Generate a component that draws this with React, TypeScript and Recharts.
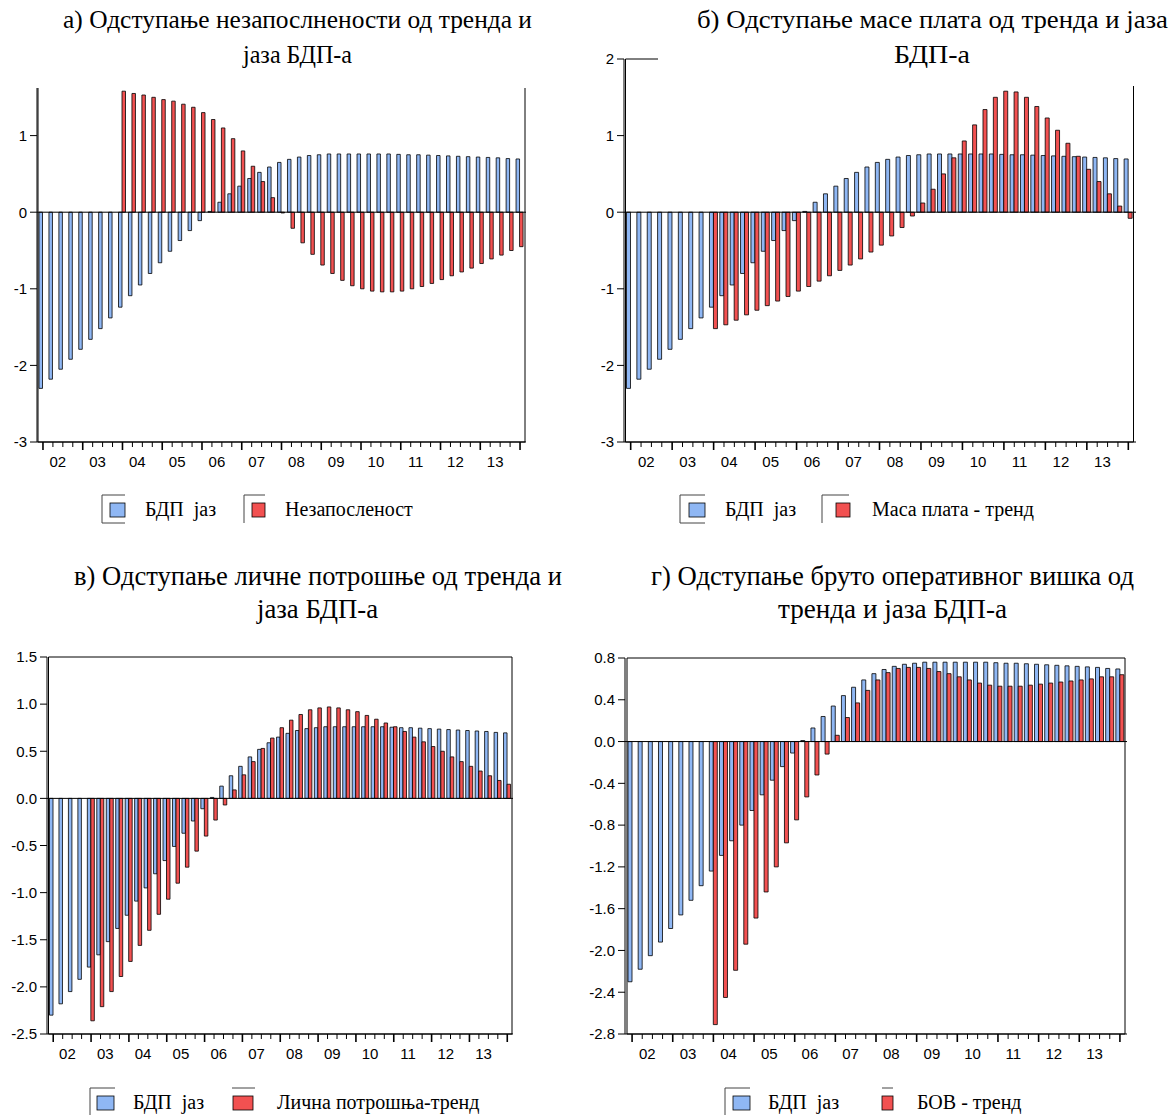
import React from "react";
import { BarChart, Bar, XAxis, YAxis, ReferenceLine, ReferenceArea } from "recharts";

const quarters = [
  "2002Q1", "2002Q2", "2002Q3", "2002Q4", "2003Q1", "2003Q2", "2003Q3", "2003Q4",
  "2004Q1", "2004Q2", "2004Q3", "2004Q4", "2005Q1", "2005Q2", "2005Q3", "2005Q4",
  "2006Q1", "2006Q2", "2006Q3", "2006Q4", "2007Q1", "2007Q2", "2007Q3", "2007Q4",
  "2008Q1", "2008Q2", "2008Q3", "2008Q4", "2009Q1", "2009Q2", "2009Q3", "2009Q4",
  "2010Q1", "2010Q2", "2010Q3", "2010Q4", "2011Q1", "2011Q2", "2011Q3", "2011Q4",
  "2012Q1", "2012Q2", "2012Q3", "2012Q4", "2013Q1", "2013Q2", "2013Q3", "2013Q4",
  "2014Q1",
];
const yearLabels = ["02", "03", "04", "05", "06", "07", "08", "09", "10", "11", "12", "13"];

// БДП јаз (same in all four panels)
const gdpGap = [
  -2.30, -2.18, -2.05, -1.92, -1.79, -1.66, -1.52, -1.38,
  -1.24, -1.09, -0.95, -0.80, -0.66, -0.51, -0.37, -0.24,
  -0.11, 0.01, 0.13, 0.24, 0.34, 0.44, 0.52, 0.59,
  0.65, 0.69, 0.72, 0.74, 0.75, 0.76, 0.76, 0.76,
  0.76, 0.76, 0.76, 0.76, 0.755, 0.75, 0.75, 0.745,
  0.74, 0.735, 0.73, 0.725, 0.72, 0.715, 0.71, 0.70,
  0.695,
];
const unemploymentDev = [
  null, null, null, null, null, null, null, null,
  1.58, 1.55, 1.53, 1.50, 1.47, 1.45, 1.41, 1.37,
  1.30, 1.21, 1.10, 0.96, 0.80, 0.60, 0.40, 0.19,
  -0.01, -0.21, -0.40, -0.55, -0.69, -0.80, -0.89, -0.96,
  -1.00, -1.03, -1.04, -1.04, -1.03, -1.00, -0.97, -0.93,
  -0.88, -0.83, -0.78, -0.73, -0.67, -0.61, -0.56, -0.50,
  -0.45,
];
const wageMassDev = [
  null, null, null, null, null, null, null, null,
  -1.52, -1.47, -1.41, -1.34, -1.28, -1.22, -1.16, -1.10,
  -1.03, -0.97, -0.90, -0.83, -0.76, -0.69, -0.61, -0.52,
  -0.43, -0.31, -0.20, -0.05, 0.12, 0.30, 0.50, 0.71,
  0.93, 1.14, 1.34, 1.50, 1.58, 1.57, 1.50, 1.38,
  1.23, 1.07, 0.90, 0.73, 0.56, 0.40, 0.24, 0.08,
  -0.08,
];
const consumptionDev = [
  null, null, null, null, -2.36, -2.21, -2.05, -1.89,
  -1.73, -1.56, -1.40, -1.23, -1.07, -0.90, -0.73, -0.56,
  -0.40, -0.23, -0.07, 0.09, 0.25, 0.39, 0.53, 0.64,
  0.75, 0.83, 0.89, 0.94, 0.96, 0.97, 0.96, 0.94,
  0.92, 0.88, 0.84, 0.80, 0.76, 0.71, 0.65, 0.60,
  0.55, 0.50, 0.44, 0.39, 0.34, 0.29, 0.24, 0.19,
  0.15,
];
const bovDev = [
  null, null, null, null, null, null, null, null,
  -2.71, -2.45, -2.19, -1.94, -1.69, -1.44, -1.20, -0.97,
  -0.75, -0.53, -0.32, -0.12, 0.06, 0.23, 0.37, 0.49,
  0.59, 0.66, 0.70, 0.71, 0.71, 0.70, 0.67, 0.65,
  0.62, 0.59, 0.56, 0.54, 0.53, 0.53, 0.53, 0.54,
  0.55, 0.56, 0.57, 0.58, 0.59, 0.60, 0.62, 0.62,
  0.64,
];

const ticksA = [-3, -2, -1, 0, 1];
const ticksB = [-3, -2, -1, 0, 1, 2];
const ticksC = [-2.5, -2, -1.5, -1, -0.5, 0, 0.5, 1, 1.5];
const ticksD = [-2.8, -2.4, -2, -1.6, -1.2, -0.8, -0.4, 0, 0.4, 0.8];

const BLUE = "#8FB7F4";
const RED = "#F25151";
const SANS = "Arial, 'Liberation Sans', sans-serif";
const SERIF = "'Liberation Serif', 'Times New Roman', serif";

const rows = (dev: (number | null)[]) => quarters.map((q, i) => ({ q, gap: gdpGap[i], dev: dev[i] }));

const QuarterTick = ({ x, y, payload, step }: any) => {
  const i = quarters.indexOf(payload.value);
  const major = i % 4 === 0;
  const label = major ? yearLabels[i / 4] : undefined;
  return (
    <g>
      <line x1={x} x2={x} y1={y} y2={y + (major ? 8 : 5)} stroke="#000" strokeWidth={major ? 1.6 : 1} />
      {label && (
        <text x={x + 1.5 * step} y={y + 25} textAnchor="middle" fontSize={15} fontFamily={SANS} fill="#000">
          {label}
        </text>
      )}
    </g>
  );
};

function Panel({ left, top, width, height, yw, margin, xh, pad, domain, ticks, fmt, dev, barSize }: any) {
  const plotW = width - yw - margin.left - margin.right;
  const step = (plotW - pad.left - pad.right) / quarters.length;
  return (
    <div style={{ position: "absolute", left, top }}>
      <BarChart width={width} height={height} data={rows(dev)} margin={margin} barGap={0} barSize={barSize}>
        <XAxis
          dataKey="q"
          interval={0}
          tickLine={false}
          tickSize={0}
          tickMargin={0}
          height={xh}
          padding={pad}
          axisLine={{ stroke: "#000" }}
          tick={(p: any) => <QuarterTick {...p} step={step} />}
        />
        <YAxis
          domain={domain}
          ticks={ticks}
          width={yw}
          tickSize={7}
          tickMargin={3}
          allowDataOverflow
          axisLine={{ stroke: "#000" }}
          tickLine={{ stroke: "#000" }}
          tick={{ fontSize: 15, fill: "#000", fontFamily: SANS }}
          tickFormatter={fmt}
        />
        <ReferenceArea y1={domain[0]} y2={domain[1]} fill="none" fillOpacity={0} stroke="#000" strokeWidth={1} ifOverflow="visible" />
        <Bar dataKey="gap" fill={BLUE} stroke="#000" strokeWidth={0.8} isAnimationActive={false} />
        <Bar dataKey="dev" fill={RED} stroke="#000" strokeWidth={0.8} isAnimationActive={false} />
        <ReferenceLine y={0} stroke="#000" strokeWidth={1} />
      </BarChart>
    </div>
  );
}

function Title({ box, lines }: any) {
  return (
    <svg style={{ position: "absolute", left: box.x, top: box.y }} width={box.w} height={box.h}>
      <rect width={box.w} height={box.h} fill="#fff" />
      {lines.map((l: any) => (
        <text
          key={l.text}
          x={l.cx - box.x}
          y={l.y - box.y}
          textAnchor="middle"
          textLength={l.w}
          lengthAdjust="spacingAndGlyphs"
          fontSize={l.size}
          fontFamily={SERIF}
          fill="#000"
        >
          {l.text}
        </text>
      ))}
    </svg>
  );
}

function LegendIcon({ it, top, bottom, sqTop, sqH }: any) {
  return (
    <g>
      {it.lines.includes("t") && <line x1={it.bx} x2={it.bx + it.bw} y1={top} y2={top} stroke="#444" strokeWidth={1} />}
      {it.lines.includes("l") && <line x1={it.bx} x2={it.bx} y1={top} y2={bottom} stroke="#444" strokeWidth={1} />}
      {it.lines.includes("b") && <line x1={it.bx} x2={it.bx + it.bw} y1={bottom} y2={bottom} stroke="#444" strokeWidth={1} />}
      <rect x={it.sx} y={sqTop} width={it.sw} height={sqH} fill={it.color} stroke="#000" strokeWidth={0.8} />
      <text x={it.tx} y={sqTop + sqH - 1} fontSize={20} fontFamily={SERIF} fill="#000" style={{ whiteSpace: "pre" }}>
        {it.name}
      </text>
    </g>
  );
}

function Legend({ y, bottom, items }: any) {
  return (
    <svg style={{ position: "absolute", left: 0, top: 0, overflow: "visible" }} width={1170} height={1115}>
      {items.map((it: any) => (
        <LegendIcon key={it.name} it={it} top={y} bottom={bottom} sqTop={y + 8} sqH={14} />
      ))}
    </svg>
  );
}

export default function App() {
  return (
    <div style={{ position: "absolute", left: 0, top: 0, width: 1170, height: 1115, background: "#fff", overflow: "hidden" }}>
      <Panel left={0} top={0} width={560} height={480} yw={37} margin={{ top: 59, right: 34, left: 0, bottom: 0 }} xh={38}
        pad={{ left: 1, right: 1 }} domain={[-3, 2]} ticks={ticksA} dev={unemploymentDev} barSize={3.5} />
      <Panel left={585} top={0} width={585} height={480} yw={39} margin={{ top: 59, right: 34, left: 0, bottom: 0 }} xh={38}
        pad={{ left: 1.5, right: 2.5 }} domain={[-3, 2]} ticks={ticksB} dev={wageMassDev} barSize={4} />
      <Panel left={0} top={640} width={560} height={440} yw={47} margin={{ top: 17, right: 47, left: 0, bottom: 0 }} xh={46}
        pad={{ left: 1.5, right: 1 }} domain={[-2.5, 1.5]} ticks={ticksC} fmt={(v: number) => v.toFixed(1)} dev={consumptionDev} barSize={3.5} />
      <Panel left={585} top={640} width={585} height={440} yw={40} margin={{ top: 18, right: 43, left: 0, bottom: 0 }} xh={46}
        pad={{ left: 2, right: 2 }} domain={[-2.8, 0.8]} ticks={ticksD} fmt={(v: number) => v.toFixed(1)} dev={bovDev} barSize={4} />

      <Title box={{ x: 0, y: 0, w: 560, h: 88 }} lines={[
        { text: "а) Одступање незапослнености од тренда и", cx: 297.5, y: 28, w: 469, size: 26 },
        { text: "јаза БДП-а", cx: 297.5, y: 63, w: 109, size: 26 },
      ]} />
      <Title box={{ x: 658, y: 0, w: 512, h: 86 }} lines={[
        { text: "б) Одступање масе плата од тренда и јаза", cx: 932.5, y: 28, w: 471, size: 26 },
        { text: "БДП-а", cx: 932, y: 63, w: 76, size: 26 },
      ]} />
      <Title box={{ x: 0, y: 555, w: 580, h: 80 }} lines={[
        { text: "в) Одступање личне потрошње од тренда и", cx: 318, y: 585, w: 488, size: 27 },
        { text: "јаза БДП-а", cx: 317.5, y: 618, w: 121, size: 27 },
      ]} />
      <Title box={{ x: 600, y: 555, w: 570, h: 80 }} lines={[
        { text: "г) Одступање бруто оперативног вишка од", cx: 892.5, y: 585, w: 483, size: 27 },
        { text: "тренда и јаза БДП-а", cx: 892.5, y: 618, w: 229, size: 27 },
      ]} />

      <Legend y={495} bottom={523} items={[
        { name: "БДП  јаз", color: BLUE, lines: "tlb", bx: 102, bw: 23, sx: 110, sw: 15, tx: 145 },
        { name: "Незапосленост", color: RED, lines: "tl", bx: 244, bw: 21, sx: 252, sw: 13, tx: 285 },
      ]} />
      <Legend y={495} bottom={523} items={[
        { name: "БДП  јаз", color: BLUE, lines: "tlb", bx: 680, bw: 25, sx: 689, sw: 16, tx: 725 },
        { name: "Маса плата - тренд", color: RED, lines: "tl", bx: 822, bw: 27, sx: 836, sw: 14, tx: 872 },
      ]} />
      <Legend y={1088} bottom={1115} items={[
        { name: "БДП  јаз", color: BLUE, lines: "tl", bx: 90, bw: 25, sx: 97, sw: 17, tx: 133 },
        { name: "Лична потрошња-тренд", color: RED, lines: "t", bx: 232, bw: 23, sx: 233, sw: 20, tx: 277 },
      ]} />
      <Legend y={1088} bottom={1115} items={[
        { name: "БДП  јаз", color: BLUE, lines: "tl", bx: 725, bw: 25, sx: 733, sw: 17, tx: 768 },
        { name: "БОВ - тренд", color: RED, lines: "t", bx: 882, bw: 11, sx: 882, sw: 11, tx: 917 },
      ]} />
    </div>
  );
}
